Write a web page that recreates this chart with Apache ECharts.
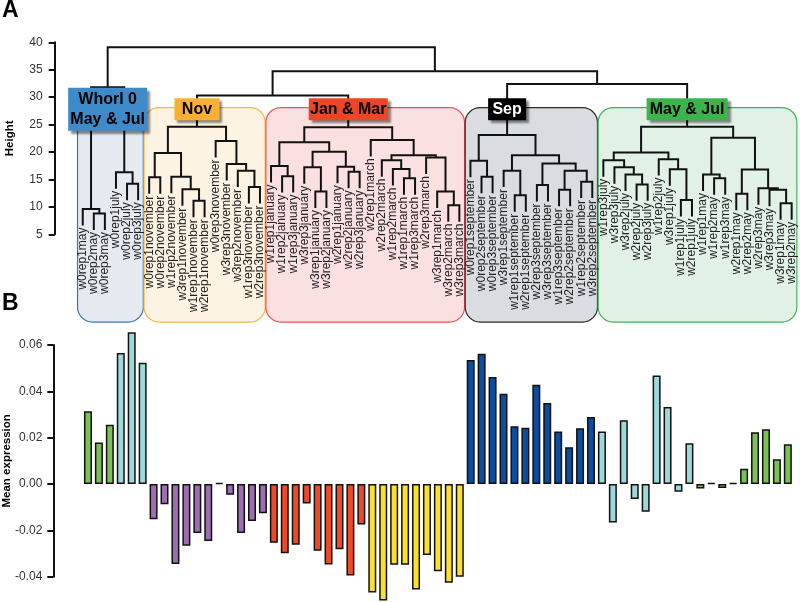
<!DOCTYPE html>
<html><head><meta charset="utf-8">
<script src="https://cdn.jsdelivr.net/npm/echarts@6/dist/echarts.min.js"></script>
<style>html,body{margin:0;padding:0;background:#fff}#c{width:800px;height:602px}</style>
</head><body><div id="c"></div>
<script>
// ---------- DATA ----------
const leafLabels = [
 'w0rep1may','w0rep2may','w0rep3may','w0rep1july','w0rep2july','w0rep3july',
 'w0rep1november','w0rep2november','w1rep2november','w3rep1november','w1rep1november','w2rep1november','w0rep3november','w3rep3november','w3rep2november','w1rep3november','w2rep3november',
 'w1rep1january','w1rep2january','w1rep3january','w3rep3january','w3rep1january','w3rep2january','w2rep1january','w2rep2january','w2rep3january',
 'w2rep1march','w2rep2march','w1rep2march','w1rep1march','w1rep3march','w2rep3march','w3rep1march','w3rep2march','w3rep3march',
 'w0rep1september','w0rep2september','w0rep3september','w3rep1september','w1rep1september','w2rep1september','w2rep3september','w3rep3september','w1rep3september','w2rep2september','w1rep2september','w3rep2september',
 'w1rep3july','w3rep3july','w3rep2july','w2rep2july','w2rep3july','w1rep2july','w3rep1july','w1rep1july','w2rep1july',
 'w1rep1may','w1rep2may','w1rep3may','w2rep1may','w2rep2may','w2rep3may','w3rep3may','w3rep1may','w3rep2may'
];

// hclust-style merges: negative = leaf number (1-based), positive = earlier merge row (1-based)
const mergePairs = [
 [-2,-3],[-1,1],[-5,-6],[-4,3],[2,4],
 [-7,-8],[-11,-12],[-10,7],[-9,8],[6,9],[-16,-17],[-15,11],[-14,12],[-13,13],[10,14],
 [-19,-20],[-18,16],[-22,-23],[-21,18],[-25,-26],[-24,20],[19,21],[17,22],
 [-30,-31],[-29,24],[-28,25],[-34,-35],[-33,27],[-32,28],[26,29],[-27,30],[23,31],
 [-37,-38],[-36,33],[-40,-41],[-39,35],[-42,-43],[-44,-45],[-46,-47],[38,39],[37,40],[36,41],[34,42],
 [-51,-52],[-50,44],[-49,45],[-48,46],[-55,-56],[-54,48],[-53,49],[47,50],
 [-58,-59],[-57,52],[-60,-61],[-64,-65],[-63,55],[-62,56],[54,57],[53,58],[51,59],
 [15,32],[43,60],[61,62],[5,63]
];
const mergeHeights = [
 8.8,9.6,14.2,16.3,31.8,
 15.4,11.1,13.2,15.5,19.8,13.6,16.6,17.8,22.0,24.6,
 15.6,17.45,12.8,17.2,16.4,17.3,20.05,21.8,
 15.2,16.9,18.5,10.3,12.8,19.0,19.4,22.2,24.5,
 15.5,18.4,12.1,16.6,14.0,13.1,14.6,16.6,17.9,19.4,23.1,
 14.1,15.9,17.2,18.5,11.25,16.85,18.7,19.9,
 15.2,15.9,12.4,10.65,13.1,13.4,16.8,22.6,24.6,
 30.3,32.4,34.7,39.1
];

const clusterNames = ['Whorl 0\nMay & Jul','Nov','Jan & Mar','Sep','May & Jul'];
const clusterFirstLeaf = [1,7,18,36,48];
const clusterLastLeaf = [6,17,35,47,65];
const clusterTopMerge = [5,15,32,43,60];

const heightTicks = [5,10,15,20,25,30,35,40];
const exprTicks = [-0.04,-0.02,0.00,0.02,0.04,0.06];

const meanExpression = [
 0.0314,0.0179,0.0256,0.0566,0.0655,0.0523,
 -0.0152,-0.0087,-0.0345,-0.0266,-0.0211,-0.0246,0.0005,-0.0046,-0.0211,-0.0160,-0.0126,
 -0.0254,-0.0299,-0.0262,-0.0084,-0.0288,-0.0347,-0.0282,-0.0395,-0.0175,
 -0.0468,-0.0503,-0.0348,-0.0348,-0.0455,-0.0306,-0.0376,-0.0426,-0.0400,
 0.0535,0.0562,0.0462,0.0390,0.0249,0.0243,0.0428,0.0350,0.0227,0.0159,0.0241,0.0289,
 0.0227,-0.0166,0.0275,-0.0065,-0.0120,0.0468,0.0332,-0.0033,0.0176,
 -0.0019,0.0004,-0.0017,0.0004,0.0066,0.0223,0.0236,0.0107,0.0172
];

// ---------- STYLES ----------
const FONT = 'Liberation Sans, Arial, Helvetica, sans-serif';
const monthColor = {may:'#7cc156', july:'#9dd8da', november:'#9d6db2', january:'#f04a24', march:'#fde02b', september:'#0a4ea2'};
const clusterStyle = [
 {fill:'#e5eaf0', stroke:'#3a74ad', label:'#3f8ac9', text:'#000', w:79, h:43},
 {fill:'#fdf3e2', stroke:'#f7b646', label:'#fbb034', text:'#000', w:45, h:22},
 {fill:'#fae0e1', stroke:'#ec5156', label:'#ee4524', text:'#000', w:79, h:22},
 {fill:'#d9dce1', stroke:'#2b2b2b', label:'#000000', text:'#fff', w:38, h:22},
 {fill:'#e1f1e6', stroke:'#3cb35b', label:'#3bb44b', text:'#000', w:81, h:22}
];
const HANG = 3, BOX_TOP_H = 28.1, BOX_BOTTOM_H = -11, LABEL_H = 27.8;

// ---------- TREE LAYOUT ----------
const nodeX = [], nodeH = [], leafEnd = [];
const treeData = mergePairs.map(([a,b],i) => {
  const h = mergeHeights[i];
  const c = v => {
    if (v < 0) { leafEnd[-v] = h - HANG; return [-v, h - HANG]; }
    return [nodeX[v], nodeH[v]];
  };
  const A = c(a), B = c(b);
  nodeX[i+1] = (A[0] + B[0]) / 2; nodeH[i+1] = h;
  return [A[0], B[0], A[1], B[1], h];
});
const leafData = leafLabels.map((n,i) => [i+1, leafEnd[i+1]]);
const boxData = clusterFirstLeaf.map((f,i) => [f, clusterLastLeaf[i]]);
const clusterLabelData = clusterTopMerge.map(m => [nodeX[m], LABEL_H]);

const chart = echarts.init(document.getElementById('c'), null, {renderer:'canvas'});
const axisCommon = {
  axisLine:{show:true, onZero:false, lineStyle:{color:'#111', width:2}},
  axisTick:{show:true, length:6, lineStyle:{color:'#111', width:2}},
  splitLine:{show:false},
  nameLocation:'middle',
  nameMoveOverlap:false,
  nameTextStyle:{fontWeight:'bold', fontSize:11.5, color:'#000', fontFamily:FONT}
};
chart.setOption({
  animation:false,
  textStyle:{fontFamily:FONT},
  graphic:[
    {type:'text', left:2, top:-1, style:{text:'A', font:'bold 23px '+FONT, fill:'#000'}},
    {type:'text', left:2, top:292, style:{text:'B', font:'bold 23px '+FONT, fill:'#000'}}
  ],
  grid:[
    {left:77.2, right:2.8, top:42.3, bottom:367.7, containLabel:false, outerBoundsMode:'none'},
    {left:82.5, right:6.7, top:345, bottom:25.3, containLabel:false, outerBoundsMode:'none'}
  ],
  xAxis:[
    {type:'value', gridIndex:0, min:0.5, max:65.5, show:false},
    {type:'category', gridIndex:1, data:leafLabels, show:false}
  ],
  yAxis:[
    Object.assign({}, axisCommon, {type:'value', gridIndex:0, min:heightTicks[0], max:heightTicks[heightTicks.length-1], interval:5,
      offset:22.5, name:'Height', nameGap:39,
      axisLabel:{fontSize:12, color:'#333', margin:12}}),
    Object.assign({}, axisCommon, {type:'value', gridIndex:1, min:exprTicks[0], max:exprTicks[exprTicks.length-1], interval:0.02,
      offset:29.2, name:'Mean expression', nameGap:40,
      axisLabel:{fontSize:12, color:'#333', margin:11, formatter:v => v.toFixed(2)}})
  ],
  series:[
    {type:'custom', xAxisIndex:0, yAxisIndex:0, z:1, data:boxData, encode:{x:[0,1]},
      renderItem:(params, api) => {
        const s = clusterStyle[params.dataIndex];
        const p0 = api.coord([api.value(0)-0.47, BOX_TOP_H]);
        const p1 = api.coord([api.value(1)+0.47, BOX_BOTTOM_H]);
        return {type:'rect', shape:{x:p0[0], y:p0[1], width:p1[0]-p0[0], height:p1[1]-p0[1], r:15},
          style:{fill:s.fill, stroke:s.stroke, lineWidth:1.2}};
      }},
    {type:'custom', xAxisIndex:0, yAxisIndex:0, z:2, data:treeData, encode:{x:[0,1], y:[2,3,4]},
      renderItem:(params, api) => {
        const xa=api.value(0), xb=api.value(1), ha=api.value(2), hb=api.value(3), h=api.value(4);
        return {type:'polyline', shape:{points:[api.coord([xa,ha]), api.coord([xa,h]), api.coord([xb,h]), api.coord([xb,hb])]},
          style:{stroke:'#111', lineWidth:2, fill:null}};
      }},
    {type:'custom', xAxisIndex:0, yAxisIndex:0, z:3, data:leafData, encode:{x:0, y:1},
      renderItem:(params, api) => {
        const p = api.coord([api.value(0), api.value(1)]);
        return {type:'text', x:p[0], y:p[1]+2, rotation:Math.PI/2,
          style:{text:leafLabels[params.dataIndex], font:'12px '+FONT, fill:'#222', align:'right', verticalAlign:'middle'}};
      }},
    {type:'custom', xAxisIndex:0, yAxisIndex:0, z:4, data:clusterLabelData, encode:{x:0, y:1},
      renderItem:(params, api) => {
        const s = clusterStyle[params.dataIndex];
        const p = api.coord([api.value(0), api.value(1)]);
        return {type:'group', children:[
          {type:'rect', shape:{x:p[0]-s.w/2, y:p[1]-s.h/2, width:s.w, height:s.h},
            style:{fill:s.label, shadowBlur:2, shadowColor:'rgba(0,0,0,0.45)', shadowOffsetX:3, shadowOffsetY:3}},
          {type:'text', x:p[0], y:p[1]+0.5,
            style:{text:clusterNames[params.dataIndex], font:'bold 16px '+FONT, fill:s.text, align:'center', verticalAlign:'middle', lineHeight:19.5}}
        ]};
      }},
    {type:'bar', xAxisIndex:1, yAxisIndex:1, barWidth:8, clip:false,
      data:meanExpression.map((v,i) => ({value:v, itemStyle:{color:monthColor[leafLabels[i].replace(/^w\drep\d/,'')]}})),
      itemStyle:{borderColor:'#111', borderWidth:1.5}}
  ]
});
</script></body></html>
